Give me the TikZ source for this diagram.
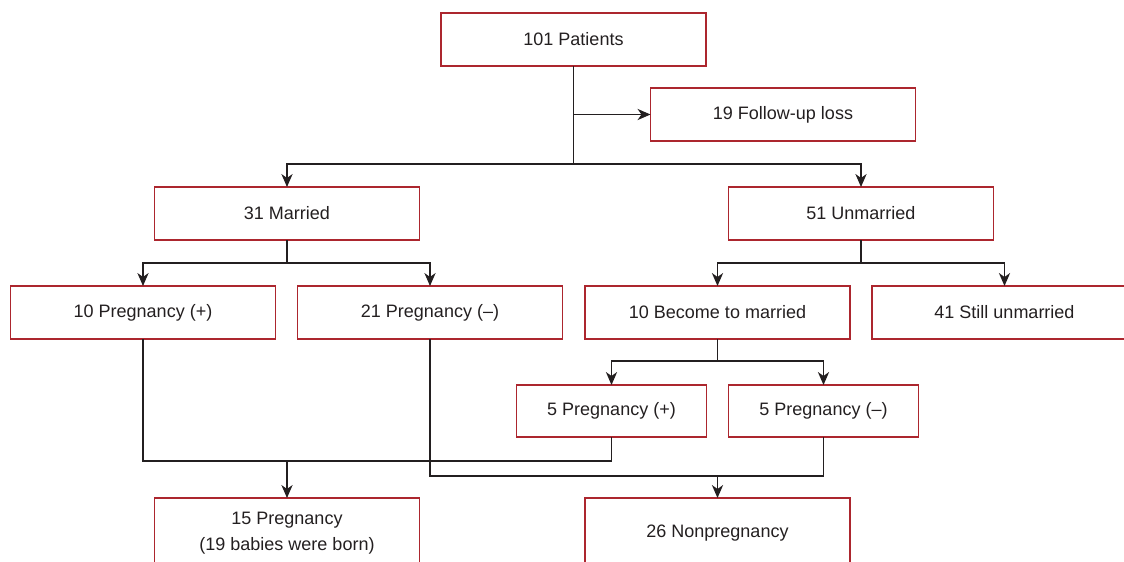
\documentclass[tikz,border=0pt]{standalone}
\usepackage{fontspec}
\setmainfont{Liberation Sans}
\usetikzlibrary{arrows.meta}
\definecolor{boxred}{RGB}{172,38,46}
\definecolor{txtgray}{RGB}{35,31,32}
\begin{document}
\begin{tikzpicture}[x=0.5pt, y=-0.5pt, line width=0.6pt, txtgray,
    >={Stealth[length=6.5pt, width=5.6pt, inset=2pt]},
    box/.style={draw=boxred, rectangle, inner sep=0pt, outer sep=0pt,
        minimum width=132.5pt, minimum height=26.5pt, align=center,
        font=\fontsize{9}{13}\selectfont},
    small/.style={box, minimum width=95pt, minimum height=26pt},
    tall/.style={box, minimum height=35pt}]
    \useasboundingbox (0,0) rectangle (1124,562);
    \clip (0,0) rectangle (1124,562);

    \node[box] (pat) at (573.5,39.5) {101 Patients};
    \node[box] (loss) at (783,114.5) {19 Follow-up loss};
    \node[box] (mar) at (287,213.5) {31 Married};
    \node[box] (unm) at (861,213.5) {51 Unmarried};
    \node[box] (pp1) at (143,312.5) {10 Pregnancy (+)};
    \node[box] (pn1) at (430,312.5) {21 Pregnancy (–)};
    \node[box] (bec) at (717.5,312.5) {10 Become to married};
    \node[box] (still) at (1004.5,312.5) {41 Still unmarried};
    \node[small] (pp2) at (611.5,411) {5 Pregnancy (+)};
    \node[small] (pn2) at (823.5,411) {5 Pregnancy (–)};
    \node[tall] (preg) at (287,533) {15 Pregnancy\\(19 babies were born)};
    \node[tall] (nonp) at (717.5,533) {26 Nonpregnancy};

    \coordinate (j1) at (573.5,164);
    \coordinate (j2) at (287,461);
    \coordinate (j3) at (717.5,476);

    \draw (pat) -- (j1);
    \draw[->] (pat.south |- loss) -- (loss);
    \draw[->] (j1) -| (mar);
    \draw[->] (j1) -| (unm);

    \draw[->] (mar.south) -- ++(0,23) -| (pp1);
    \draw[->] (mar.south) -- ++(0,23) -| (pn1);
    \draw[->] (unm.south) -- ++(0,23) -| (bec);
    \draw[->] (unm.south) -- ++(0,23) -| (still);
    \draw[->] (bec.south) -- ++(0,22) -| (pp2);
    \draw[->] (bec.south) -- ++(0,22) -| (pn2);

    \draw (pp1.south) |- (j2) -| (pp2.south);
    \draw[->] (j2) -- (preg);
    \draw (pn1.south) |- (j3) -| (pn2.south);
    \draw[->] (j3) -- (nonp);
\end{tikzpicture}
\end{document}
